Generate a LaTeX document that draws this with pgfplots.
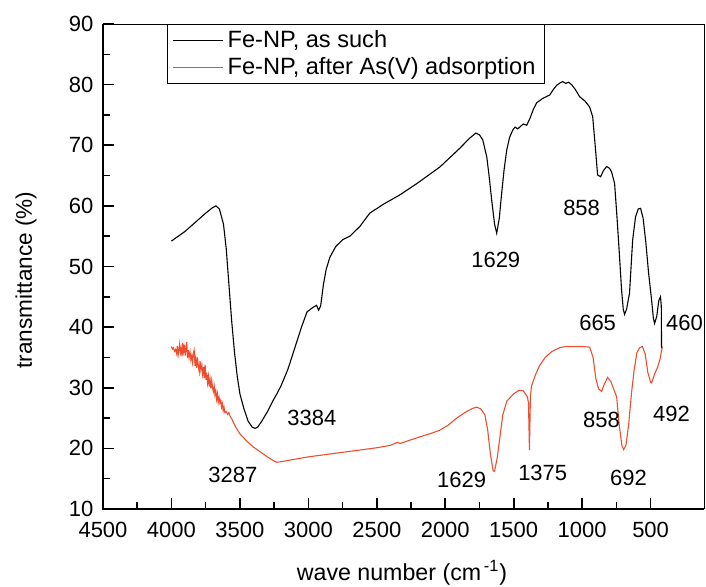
\documentclass[border=0pt]{standalone}
\usepackage{fontspec}
\setmainfont{Liberation Sans}
\usepackage{pgfplots}
\pgfplotsset{compat=1.18}
\definecolor{ftred}{RGB}{238,78,48}
\begin{document}
\fontsize{11}{13}\selectfont
\begin{tikzpicture}
\begin{axis}[name=ax, scale only axis, width=300.5pt, height=242.5pt,
 xmin=110, xmax=4500, x dir=reverse, ymin=10, ymax=90,
 xtick={500,1000,...,4500}, ytick={10,20,...,90},
 minor x tick num=1, minor y tick num=1,
 tick align=inside, xtick pos=bottom, ytick pos=left,
 major tick length=5.5pt, minor tick length=3.5pt,
 tick style={line width=0.8pt, black},
 axis line style={line width=0.5pt},
 /pgf/number format/assume math mode=true,
 /pgf/number format/1000 sep={},
 tick label style={font=\fontsize{11}{13}\selectfont},
 xticklabel style={yshift=-2.5pt},
 yticklabel style={xshift=-1pt},
 xlabel={wave number (cm\textsuperscript{\,-1})}, ylabel={transmittance (\%)},
 xlabel style={at={(axis description cs:0.4975,-0.131)}, anchor=center, font=\fontsize{11.6}{13}\selectfont},
 ylabel style={at={(axis description cs:-0.128,0.472)}, anchor=center, font=\fontsize{11.3}{13}\selectfont},
 legend style={at={(axis description cs:0.1065,1)}, anchor=north west, draw=black, line width=0.5pt,
   font=\fontsize{11.8}{14}\selectfont, cells={anchor=west}, row sep=-1pt, inner xsep=2.5pt, inner ysep=1pt},
 legend image code/.code={\draw[#1] (0pt,0pt) -- (25pt,0pt);},
]
\addplot[black, line width=0.55pt] coordinates {
(4000,54.2)(3950,55.0)(3900,55.8)(3850,56.8)(3800,57.8)(3750,58.8)(3700,59.7)(3675,60.0)(3650,59.5)
(3620,57.0)(3600,53)(3580,47)(3560,41)(3540,36)(3520,32)(3500,29)(3470,26.5)(3440,24.5)(3410,23.5)
(3390,23.3)(3370,23.5)(3340,24.5)(3300,26)(3260,27.8)(3230,29)(3200,30.3)(3150,33)(3100,36.5)
(3050,40)(3010,42.5)(2970,43.2)(2940,43.6)(2925,42.8)(2910,43.5)(2890,47)(2870,49.5)(2843,51.5)
(2800,53.3)(2750,54.4)(2697,55.0)(2624,56.6)(2551,58.8)(2450,60.3)(2332,61.8)(2200,63.8)(2040,66.4)
(1894,69.5)(1820,71.2)(1777,72.0)(1750,71.7)(1726,70.9)(1697,68.1)(1680,65)(1661,61)(1640,57)
(1624,55.5)(1605,58)(1588,62.1)(1570,66)(1551,69.2)(1530,71.3)(1507,72.5)(1490,73.0)(1470,72.7)
(1456,73.0)(1430,73.5)(1405,73.3)(1380,74.5)(1355,76)(1332,77)(1290,77.7)(1237,78.3)(1210,79.2)
(1186,79.9)(1160,80.3)(1143,80.5)(1120,80.2)(1100,80.4)(1077,80)(1050,79.2)(1018,78)(980,77.3)
(945,76.3)(923,74.7)(905,70)(887,65.1)(865,64.8)(845,65.8)(821,66.5)(800,66.2)(785,65.6)(763,63.7)
(745,58)(728,52)(712,46.1)(700,43)(690,42.1)(675,43)(654,45.6)(640,51)(631,54.4)(610,58.2)
(590,59.5)(573,59.6)(555,58)(535,54)(515,49)(493,44.5)(480,41.5)(471,40.6)(455,41.8)(440,44.4)
(428,45)(422,43.5)(420,36.5)
};
\addlegendentry{Fe-NP, as such}
\addplot[ftred, line width=0.55pt] coordinates {
(4000,36.8)(3993,36.4)(3985,36.6)(3978,36.0)(3970,36.3)(3962,35.6)(3957,36.9)(3951,35.4)(3946,36.1)
(3940,37.2)(3934,35.8)(3929,36.5)(3922,35.2)(3917,37.4)(3911,36.0)(3905,37.1)(3899,35.3)(3894,36.3)
(3888,37.5)(3882,34.9)(3877,36.2)(3871,35.0)(3864,35.9)(3858,34.6)(3852,35.3)(3846,34.2)(3840,35.7)
(3834,36.2)(3828,33.6)(3822,34.8)(3816,33.3)(3810,35.0)(3803,33.5)(3797,32.6)(3791,34.4)(3785,32.9)
(3778,33.8)(3772,32.2)(3765,33.4)(3760,31.6)(3754,33.8)(3748,31.3)(3742,32.5)(3736,30.8)(3730,31.9)
(3724,30.2)(3718,31.4)(3712,29.9)(3706,31.2)(3700,30.0)(3694,29.4)(3688,30.3)(3682,28.8)(3676,29.5)
(3670,28.1)(3664,29.0)(3658,27.6)(3652,28.4)(3646,27.5)(3640,27.9)(3634,26.8)(3628,27.4)(3622,26.2)
(3616,26.8)(3610,25.9)(3600,26.1)(3590,25.6)(3580,25.9)(3570,25.2)(3560,24.9)(3550,24.4)(3530,23.5)
(3500,22.4)(3450,21.2)(3400,20.2)(3350,19.4)(3300,18.6)(3250,17.9)(3230,17.7)(3200,17.8)(3100,18.2)
(3000,18.6)(2900,18.9)(2800,19.2)(2700,19.5)(2600,19.8)(2500,20.1)(2400,20.5)(2350,21.0)(2330,20.8)
(2200,21.8)(2100,22.5)(2040,23.0)(1980,23.8)(1916,25.0)(1850,26.0)(1800,26.6)(1770,26.8)(1740,26.5)
(1710,25.5)(1690,23)(1670,19)(1650,16.3)(1640,16.2)(1620,18.5)(1600,22)(1580,25.5)(1550,27.8)
(1500,29)(1460,29.6)(1430,29.5)(1400,28.5)(1392,27.5)(1385,19.7)(1378,28.5)(1370,30.3)(1340,32.2)
(1310,33.7)(1270,35)(1220,36)(1164,36.6)(1120,36.8)(1000,36.8)(945,36.7)(920,35)(900,31.5)(880,29.8)
(858,29.4)(840,30.5)(814,31.7)(790,31)(770,29.8)(748,28.5)(730,24)(710,20.5)(697,19.8)(680,20.5)
(660,24)(640,29)(620,33)(600,35.8)(580,36.6)(560,36.8)(540,35.6)(520,32.5)(500,30.9)(493,30.8)
(470,32.3)(449,33.4)(430,34.8)(420,36.2)(412,36.8)
};
\addlegendentry{Fe-NP, after As(V) adsorption}
\node at (axis cs:2974,25.0) {3384};
\node at (axis cs:3551,15.7) {3287};
\node at (axis cs:1631,51.1) {1629};
\node at (axis cs:1004,59.6) {858};
\node at (axis cs:887,40.7) {665};
\node at (axis cs:252,40.7) {460};
\node at (axis cs:858,24.7) {858};
\node at (axis cs:347,25.6) {492};
\node at (axis cs:1880,14.8) {1629};
\node at (axis cs:1288,15.9) {1375};
\node at (axis cs:661,15.1) {692};
\end{axis}
\draw[line width=1.4pt] (ax.north west) -- (ax.south west) -- (ax.south east);
\pgfresetboundingbox
\path ([shift={(-51.5pt,-39pt)}]ax.south west) rectangle ([shift={(301.5pt,254.5pt)}]ax.south west);
\end{tikzpicture}
\end{document}
